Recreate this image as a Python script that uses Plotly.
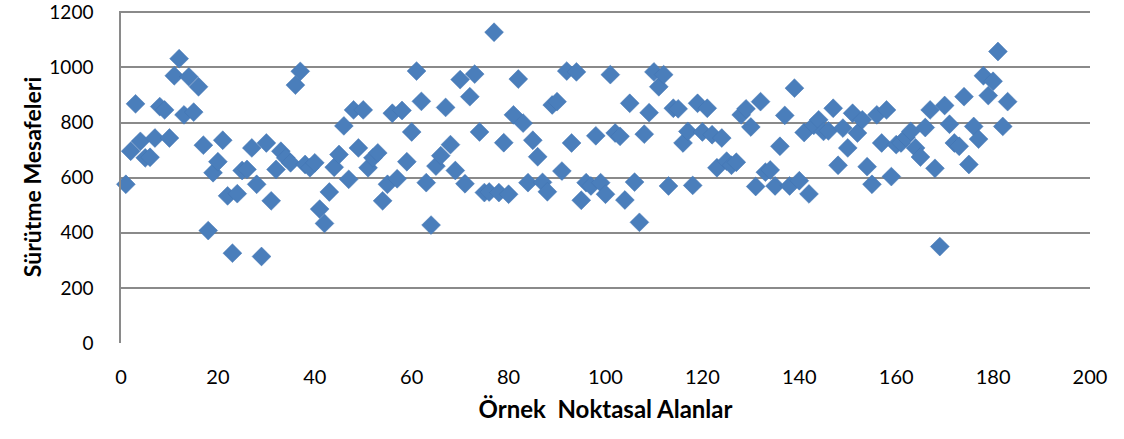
import plotly.graph_objects as go

sample_index = list(range(1, 184))
drag_distance = [
    576, 696, 868, 732, 672, 674, 744, 858, 846, 744,
    970, 1032, 828, 966, 838, 930, 718, 408, 618, 658,
    736, 534, 326, 542, 626, 630, 708, 576, 314, 726,
    516, 630, 696, 672, 654, 936, 986, 648, 636, 654,
    486, 434, 548, 638, 684, 788, 594, 846, 708, 846,
    636, 672, 690, 516, 576, 834, 596, 844, 658, 766,
    987, 877, 582, 428, 642, 680, 855, 720, 626, 956,
    578, 894, 976, 766, 546, 548, 1128, 546, 727, 540,
    828, 958, 798, 582, 736, 676, 583, 549, 864, 876,
    624, 987, 726, 984, 518, 582, 570, 752, 582, 540,
    974, 762, 750, 519, 870, 584, 438, 758, 836, 984,
    930, 974, 570, 852, 850, 726, 768, 572, 870, 766,
    852, 756, 636, 744, 660, 645, 656, 828, 850, 784,
    568, 876, 620, 628, 570, 714, 826, 570, 925, 589,
    764, 541, 790, 810, 768, 770, 852, 645, 780, 708,
    834, 762, 810, 640, 576, 828, 726, 846, 604, 720,
    726, 746, 768, 708, 675, 782, 846, 634, 350, 862,
    794, 726, 714, 894, 648, 786, 740, 970, 898, 950,
    1058, 786, 876,
]

x_ticks = [0, 20, 40, 60, 80, 100, 120, 140, 160, 180, 200]
y_ticks = [0, 200, 400, 600, 800, 1000, 1200]

x_title = "Örnek  Noktasal Alanlar"
y_title = "Sürütme Mesafeleri"

font_family = "Lato, 'Open Sans', sans-serif"

fig = go.Figure(
    go.Scatter(
        x=sample_index,
        y=drag_distance,
        mode="markers",
        marker=dict(symbol="diamond", size=14.5, color="#4A7EBB",
                    line=dict(color="#4275B3", width=0.5)),
        showlegend=False,
        cliponaxis=False,
    )
)

fig.update_layout(
    width=1124,
    height=439,
    margin=dict(l=121, r=34, t=11, b=96, autoexpand=False),
    paper_bgcolor="white",
    plot_bgcolor="white",
    font=dict(family=font_family, size=20, color="black"),
)

fig.update_xaxes(
    range=[0, 200],
    tickvals=x_ticks,
    ticktext=[str(v) for v in x_ticks],
    showgrid=False,
    zeroline=False,
    showline=False,
    ticks="",
    automargin=False,
    ticklabelstandoff=20,
    ticklabeloverflow="allow",
    tickfont=dict(size=20),
    title=dict(text="<b>" + x_title + "</b>", font=dict(size=24), standoff=14),
)

fig.update_yaxes(
    range=[0, 1205],
    tickvals=y_ticks,
    ticktext=[str(v) for v in y_ticks],
    showgrid=True,
    gridcolor="#8a8a8a",
    gridwidth=1.5,
    zeroline=False,
    showline=True,
    linecolor="#8a8a8a",
    linewidth=1.5,
    ticks="",
    automargin=False,
    ticklabelstandoff=22,
    ticklabeloverflow="allow",
    tickfont=dict(size=19),
    title=dict(text="<b>" + y_title + "</b>", font=dict(size=23), standoff=1),
)

fig.write_html("out.html")
